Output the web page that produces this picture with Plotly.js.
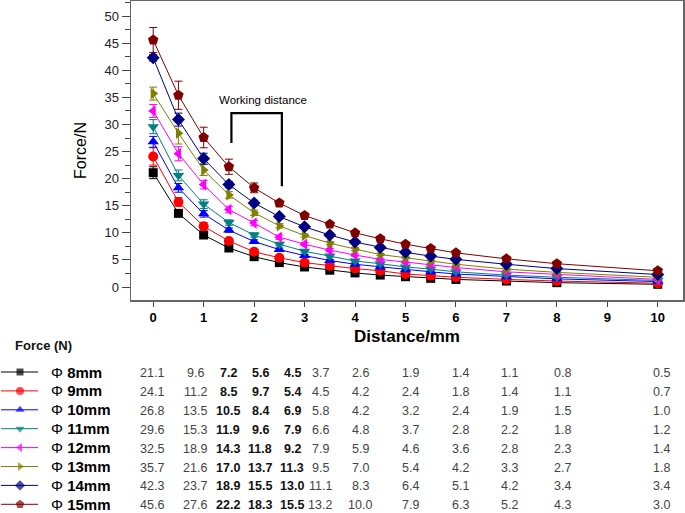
<!DOCTYPE html>
<html>
<head>
<meta charset="utf-8">
<script src="https://cdn.plot.ly/plotly-3.0.1.min.js"></script>
<style>html,body{margin:0;padding:0;background:#fff;}#chart{width:685px;height:513px;}</style>
</head>
<body>
<div id="chart"></div>
<script>
// ---------- data ----------
const distance = [0, 0.5, 1, 1.5, 2, 2.5, 3, 3.5, 4, 4.5, 5, 5.5, 6, 7, 8, 10];
const seriesNames = ['8mm', '9mm', '10mm', '11mm', '12mm', '13mm', '14mm', '15mm'];
const force8  = [21.1, 13.6, 9.6, 7.2, 5.6, 4.5, 3.7, 3.1, 2.6, 2.2, 1.9, 1.6, 1.4, 1.1, 0.8, 0.5];
const force9  = [24.1, 15.7, 11.2, 8.5, 6.5, 5.4, 4.5, 3.9, 3.4, 3.0, 2.4, 2.1, 1.8, 1.4, 1.1, 0.7];
const force10 = [26.8, 18.3, 13.5, 10.5, 8.4, 6.9, 5.8, 4.9, 4.2, 3.7, 3.2, 2.8, 2.4, 1.9, 1.5, 1.0];
const force11 = [29.6, 20.6, 15.3, 11.9, 9.6, 7.9, 6.6, 5.7, 4.8, 4.3, 3.7, 3.3, 2.8, 2.2, 1.8, 1.2];
const force12 = [32.5, 24.6, 18.9, 14.3, 11.8, 9.2, 7.9, 6.8, 5.9, 5.1, 4.6, 4.1, 3.6, 2.8, 2.3, 1.4];
const force13 = [35.7, 28.4, 21.6, 17.0, 13.7, 11.3, 9.5, 8.1, 7.0, 6.0, 5.4, 4.8, 4.2, 3.3, 2.7, 1.8];
const force14 = [42.3, 30.9, 23.7, 18.9, 15.5, 13.0, 11.1, 9.6, 8.3, 7.3, 6.4, 5.7, 5.1, 4.2, 3.4, 2.3];
const force15 = [45.6, 35.4, 27.6, 22.2, 18.3, 15.5, 13.2, 11.6, 10.0, 8.9, 7.9, 7.1, 6.3, 5.2, 4.3, 3.0];
const err8  = [1.1, 0.6, 0.4, 0.3, 0.3, 0.2, 0.2, 0.2, 0.2, 0.2, 0.2, 0.2, 0.2, 0.2, 0.2, 0.2];
const err9  = [1.6, 0.8, 0.7, 0.4, 0.3, 0.3, 0.2, 0.2, 0.2, 0.2, 0.2, 0.2, 0.2, 0.2, 0.2, 0.2];
const err10 = [1.0, 0.8, 0.6, 0.4, 0.3, 0.3, 0.2, 0.2, 0.2, 0.2, 0.2, 0.2, 0.2, 0.2, 0.2, 0.2];
const err11 = [1.3, 1.0, 0.8, 0.5, 0.4, 0.3, 0.3, 0.2, 0.2, 0.2, 0.2, 0.2, 0.2, 0.2, 0.2, 0.2];
const err12 = [1.2, 1.3, 0.8, 0.6, 0.5, 0.4, 0.3, 0.3, 0.2, 0.2, 0.2, 0.2, 0.2, 0.2, 0.2, 0.2];
const err13 = [1.2, 2.0, 1.0, 0.6, 0.5, 0.4, 0.3, 0.3, 0.3, 0.2, 0.2, 0.2, 0.2, 0.2, 0.2, 0.2];
const err14 = [0.6, 1.2, 1.0, 0.6, 0.5, 0.4, 0.3, 0.3, 0.3, 0.2, 0.2, 0.2, 0.2, 0.2, 0.2, 0.2];
const err15 = [2.3, 2.6, 1.9, 1.4, 0.9, 0.5, 0.4, 0.3, 0.3, 0.3, 0.3, 0.2, 0.2, 0.2, 0.2, 0.2];

// table printed below the chart (as in the source figure)
const tableTitle = 'Force (N)';
const tableRow8  = ['21.1', '9.6', '7.2', '5.6', '4.5', '3.7', '2.6', '1.9', '1.4', '1.1', '0.8', '0.5'];
const tableRow9  = ['24.1', '11.2', '8.5', '9.7', '5.4', '4.5', '4.2', '2.4', '1.8', '1.4', '1.1', '0.7'];
const tableRow10 = ['26.8', '13.5', '10.5', '8.4', '6.9', '5.8', '4.2', '3.2', '2.4', '1.9', '1.5', '1.0'];
const tableRow11 = ['29.6', '15.3', '11.9', '9.6', '7.9', '6.6', '4.8', '3.7', '2.8', '2.2', '1.8', '1.2'];
const tableRow12 = ['32.5', '18.9', '14.3', '11.8', '9.2', '7.9', '5.9', '4.6', '3.6', '2.8', '2.3', '1.4'];
const tableRow13 = ['35.7', '21.6', '17.0', '13.7', '11.3', '9.5', '7.0', '5.4', '4.2', '3.3', '2.7', '1.8'];
const tableRow14 = ['42.3', '23.7', '18.9', '15.5', '13.0', '11.1', '8.3', '6.4', '5.1', '4.2', '3.4', '3.4'];
const tableRow15 = ['45.6', '27.6', '22.2', '18.3', '15.5', '13.2', '10.0', '7.9', '6.3', '5.2', '4.3', '3.0'];
const boldColumns = [2, 3, 4];
const bracketLabel = 'Working distance';

// ---------- styles / layout ----------
const forces = [force8, force9, force10, force11, force12, force13, force14, force15];
const errs = [err8, err9, err10, err11, err12, err13, err14, err15];
const tableRows = [tableRow8, tableRow9, tableRow10, tableRow11, tableRow12, tableRow13, tableRow14, tableRow15];
const colors = ['#000000', '#ff0000', '#0000ff', '#008080', '#ff00ff', '#808000', '#000080', '#800000'];
const symbols = ['square', 'circle', 'triangle-up', 'triangle-down', 'triangle-left', 'triangle-right', 'diamond', 'pentagon'];
const sizes = [9, 10, 10, 10, 10, 10, 10, 11];
const tableColX = [152, 195, 228, 260, 292, 320, 360, 410, 460, 509, 562, 661];
const rowY0 = 372, rowStep = 18.9;
const W = 685, H = 513;
const FONT = 'Arial, "Liberation Sans", sans-serif';

const traces = [];
forces.forEach((f, i) => {
  traces.push({
    type: 'scatter', mode: 'lines+markers', x: distance, y: f,
    name: seriesNames[i],
    line: {color: colors[i], width: 1},
    marker: {symbol: symbols[i], color: colors[i], size: sizes[i], line: {width: 0}},
    error_y: {type: 'data', array: errs[i], visible: true, color: colors[i], thickness: 1, width: 4},
    xaxis: 'x', yaxis: 'y', showlegend: false, hoverinfo: 'x+y'
  });
});
// legend-like keys in the table
forces.forEach((f, i) => {
  const yy = rowY0 + i * rowStep;
  traces.push({
    type: 'scatter', mode: 'lines+markers', x: [1, 20, 38], y: [yy, yy, yy],
    line: {color: colors[i], width: 1},
    marker: {symbol: symbols[i], color: colors[i], size: [0, sizes[i] - 2, 0], line: {width: 0}},
    xaxis: 'x2', yaxis: 'y2', showlegend: false, hoverinfo: 'skip'
  });
});

const annotations = [];
annotations.push({xref: 'x2', yref: 'y2', x: 13, y: 345, text: '<b>' + tableTitle + '</b>', showarrow: false,
  xanchor: 'left', yanchor: 'middle', font: {family: FONT, size: 13, color: '#111'}});
tableRows.forEach((row, i) => {
  const yy = rowY0 + i * rowStep;
  annotations.push({xref: 'x2', yref: 'y2', x: 49, y: yy, showarrow: false, xanchor: 'left', yanchor: 'middle',
    text: 'Φ <b>' + seriesNames[i] + '</b>',
    font: {family: FONT, size: 15, color: '#000'}});
  row.forEach((v, j) => {
    const b = boldColumns.indexOf(j) >= 0;
    annotations.push({xref: 'x2', yref: 'y2', x: tableColX[j], y: yy + 1, showarrow: false,
      xanchor: 'center', yanchor: 'middle', text: b ? '<b>' + v + '</b>' : v,
      font: {family: FONT, size: 12.5, color: b ? '#111' : '#444'}});
  });
});
annotations.push({xref: 'x', yref: 'y', x: 2.18, y: 34.6, text: bracketLabel, showarrow: false,
  xanchor: 'center', yanchor: 'middle', font: {family: FONT, size: 11.5, color: '#000'}});

const shapes = [
  {type: 'path', xref: 'x', yref: 'y', path: 'M 1.55 26.6 L 1.55 32.1 L 2.55 32.1 L 2.55 18.6',
   line: {color: '#000', width: 2.2}}
];

const layout = {
  width: W, height: H,
  margin: {l: 0, r: 0, t: 0, b: 0},
  paper_bgcolor: '#fff', plot_bgcolor: 'rgba(0,0,0,0)',
  font: {family: FONT},
  showlegend: false,
  xaxis: {
    domain: [131 / W, 683 / W], range: [-0.44, 10.5], anchor: 'y',
    tickvals: [0, 1, 2, 3, 4, 5, 6, 7, 8, 9, 10],
    ticks: 'outside', ticklen: 5, tickwidth: 1, tickcolor: '#444',
    showline: true, linecolor: '#666', linewidth: 1.5, mirror: true,
    showgrid: false, zeroline: false,
    tickfont: {family: FONT, size: 13, color: '#000', weight: 'bold'},
    title: {text: '<b>Distance/mm</b>', font: {family: FONT, size: 17, color: '#000'}, standoff: 6}
  },
  yaxis: {
    domain: [(H - 300) / H, (H - 1) / H], range: [-2.4, 52.8], anchor: 'x',
    tickvals: [0, 5, 10, 15, 20, 25, 30, 35, 40, 45, 50],
    ticks: 'outside', ticklen: 8, tickwidth: 1, tickcolor: '#444',
    minor: {tickvals: [2.5, 7.5, 12.5, 17.5, 22.5, 27.5, 32.5, 37.5, 42.5, 47.5, 52.5], ticks: 'outside', ticklen: 5, tickcolor: '#444'},
    showline: true, linecolor: '#666', linewidth: 1.5, mirror: true,
    showgrid: false, zeroline: false,
    tickfont: {family: FONT, size: 13, color: '#222'},
    title: {text: 'Force/N', font: {family: FONT, size: 16, color: '#000'}, standoff: 14}
  },
  xaxis2: {domain: [0, 1], range: [0, W], anchor: 'y2', visible: false, fixedrange: true},
  yaxis2: {domain: [0, 200 / H], range: [H, H - 200], anchor: 'x2', visible: false, fixedrange: true},
  annotations: annotations,
  shapes: shapes
};

Plotly.newPlot('chart', traces, layout, {displayModeBar: false, staticPlot: true});
</script>
</body>
</html>
